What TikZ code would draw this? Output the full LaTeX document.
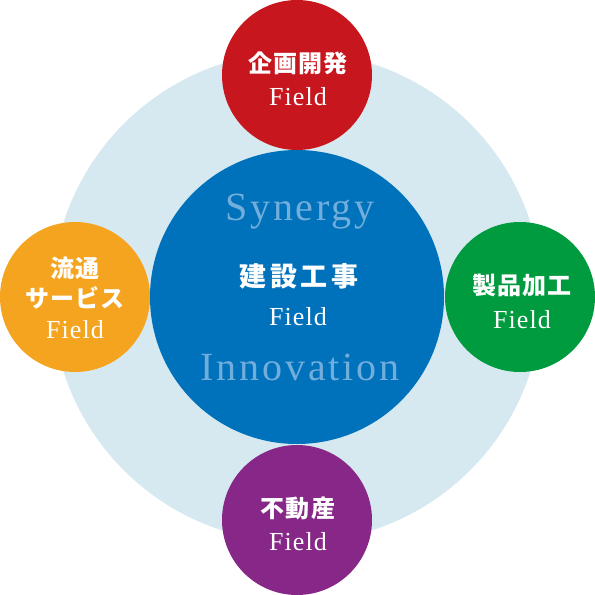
\documentclass[tikz,border=0pt]{standalone}
\usepackage{fontspec}
\setmainfont{Liberation Serif}
\newfontfamily\jpfont[LetterSpace=5]{Noto Sans CJK JP}
\newfontfamily\jpwidefont[LetterSpace=13]{Noto Sans CJK JP}
\newfontfamily\fieldfont[LetterSpace=4]{Liberation Serif}
\newfontfamily\keyfont[LetterSpace=7]{Liberation Serif}
\usetikzlibrary{positioning}
\definecolor{ringblue}{HTML}{D6E9F1}
\definecolor{coreblue}{HTML}{0071BB}
\definecolor{wordblue}{HTML}{72AEDB}
\definecolor{planred}{HTML}{C8161F}
\definecolor{distorange}{HTML}{F5A41F}
\definecolor{prodgreen}{HTML}{009B3E}
\definecolor{estatepurple}{HTML}{872888}

\begin{document}
\begin{tikzpicture}[
  x=1pt, y=-1pt,
  field/.style={circle, inner sep=0pt, minimum size=150pt},
  jptext/.style={text=white, font=\jpfont\bfseries\fontsize{24}{30}\selectfont, align=center},
  fieldtext/.style={text=white, anchor=base, font=\fieldfont\fontsize{26}{28}\selectfont},
  keyword/.style={text=wordblue, anchor=base, font=\keyfont\fontsize{40}{42}\selectfont}
]
\useasboundingbox (0,0) rectangle (595,595);

% background ring
\node[circle, fill=ringblue, inner sep=0pt, minimum size=490pt] (ring) at (297,297) {};

% centre field
\node[circle, fill=coreblue, inner sep=0pt, minimum size=294pt] (build) at (297,297) {};
\node[keyword] (synergy) at (300,220) {Synergy};
\node[jptext, font=\jpwidefont\bfseries\fontsize{27}{30}\selectfont] (buildjp) at (299,276) {建設工事};
\node[fieldtext] (buildfield) at (298,325) {Field};
\node[keyword] (innov) at (300,380) {Innovation};

% outer fields
\node[field, fill=planred] (plan) at (297,75) {};
\node[jptext] (planjp) at (298,63) {企画開発};
\node[fieldtext] (planfield) at (298,105) {Field};

\node[field, fill=distorange] (dist) at (75,297) {};
\node[jptext] (distjp) at (75,283) {流通\\サービス};
\node[fieldtext] (distfield) at (75,338) {Field};

\node[field, fill=prodgreen] (prod) at (520,297) {};
\node[jptext] (prodjp) at (522,285) {製品加工};
\node[fieldtext] (prodfield) at (522,328) {Field};

\node[field, fill=estatepurple] (estate) at (297,520) {};
\node[jptext] (estatejp) at (298,508) {不動産};
\node[fieldtext] (estatefield) at (298,550) {Field};
\end{tikzpicture}
\end{document}
